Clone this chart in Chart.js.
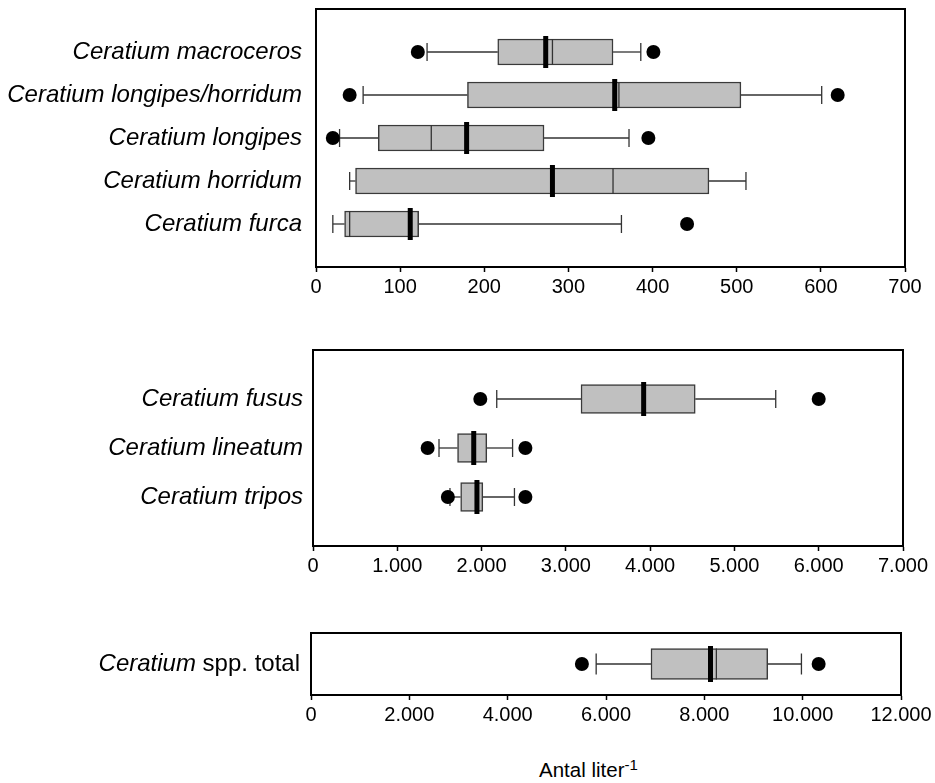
<!DOCTYPE html>
<html>
<head>
<meta charset="utf-8">
<script src="https://cdn.jsdelivr.net/npm/chart.js@4/dist/chart.umd.min.js"></script>
<style>
  html, body { margin: 0; padding: 0; background: #fff; }
  body { width: 935px; height: 783px; position: relative; overflow: hidden; font-family: 'Liberation Sans', Arial, sans-serif; }
  canvas { position: absolute; left: 0; }
  #xtitle { position: absolute; left: 539px; top: 759px; font-size: 20.5px; line-height: 22px; color: #000; white-space: nowrap; }
  #xtitle sup { font-size: 15px; vertical-align: 7px; line-height: 0; }
</style>
</head>
<body>
<canvas id="chart1" width="935" height="307" style="top:0px"></canvas>
<canvas id="chart2" width="935" height="246" style="top:340px"></canvas>
<canvas id="chart3" width="935" height="112" style="top:623px"></canvas>
<div id="xtitle">Antal liter<sup>-1</sup></div>

<script>
// Panel 1 - small species (0-700)
const names1 = ['Ceratium macroceros', 'Ceratium longipes/horridum', 'Ceratium longipes', 'Ceratium horridum', 'Ceratium furca'];
const whiskerLow1 = [132, 56, 28, 40, 20];
const q1_1 = [216, 180, 74, 47, 34];
const median1 = [281, 360, 137, 353, 40];
const mean1 = [273, 355, 179, 281, 112];
const q3_1 = [353, 505, 271, 467, 122];
const whiskerHigh1 = [386, 601, 372, 511, 363];
const outliers1 = [[1, 121], [1, 401], [2, 40], [2, 620], [3, 20], [3, 395], [5, 441]];
const ticks1 = [0, 100, 200, 300, 400, 500, 600, 700];

// Panel 2 - bigger species (0-7000)
const names2 = ['Ceratium fusus', 'Ceratium lineatum', 'Ceratium tripos'];
const whiskerLow2 = [2180, 1495, 1625];
const q1_2 = [3180, 1715, 1752];
const median2 = [3925, 1910, 1948];
const mean2 = [3923, 1907, 1945];
const q3_2 = [4535, 2062, 2015];
const whiskerHigh2 = [5490, 2368, 2390];
const outliers2 = [[1, 1985], [1, 6000], [2, 1360], [2, 2520], [3, 1600], [3, 2520]];
const ticks2 = [0, 1000, 2000, 3000, 4000, 5000, 6000, 7000];

// Panel 3 - total (0-12000)
const names3 = ['Ceratium spp. total'];
const whiskerLow3 = [5800];
const q1_3 = [6915];
const median3 = [8245];
const mean3 = [8125];
const q3_3 = [9290];
const whiskerHigh3 = [9975];
const outliers3 = [[1, 5510], [1, 10325]];
const ticks3 = [0, 2000, 4000, 6000, 8000, 10000, 12000];

Chart.defaults.font.family = "'Liberation Sans', Arial, sans-serif";

// thousands with a dot, like the original
function fmt(v) {
    return String(v).replace(/\B(?=(\d{3})+(?!\d))/g, '.');
}

// draws whiskers, caps, median and mean through the scales
const boxExtras = {
    id: 'boxExtras',
    beforeDatasetsDraw(chart, args, opts) {
        const { ctx, scales: { x, y } } = chart;
        ctx.save();
        ctx.strokeStyle = '#333';
        ctx.lineWidth = 1.3;
        opts.low.forEach((lo, i) => {
            const py = y.getPixelForValue(i + 1);
            const pairs = [[lo, opts.q1[i]], [opts.q3[i], opts.high[i]]];
            pairs.forEach(([a, b]) => {
                ctx.beginPath();
                ctx.moveTo(x.getPixelForValue(a), py);
                ctx.lineTo(x.getPixelForValue(b), py);
                ctx.stroke();
            });
            [lo, opts.high[i]].forEach(v => {
                const px = x.getPixelForValue(v);
                ctx.beginPath();
                ctx.moveTo(px, py - opts.capPx / 2);
                ctx.lineTo(px, py + opts.capPx / 2);
                ctx.stroke();
            });
        });
        ctx.restore();
    },
    afterDatasetsDraw(chart, args, opts) {
        const { ctx, scales: { x, y } } = chart;
        ctx.save();
        opts.median.forEach((m, i) => {
            const py = y.getPixelForValue(i + 1);
            ctx.strokeStyle = '#333';
            ctx.lineWidth = 1.3;
            const pm = x.getPixelForValue(m);
            ctx.beginPath();
            ctx.moveTo(pm, py - opts.boxPx / 2);
            ctx.lineTo(pm, py + opts.boxPx / 2);
            ctx.stroke();
            ctx.strokeStyle = '#000';
            ctx.lineWidth = 5;
            const pa = x.getPixelForValue(opts.mean[i]);
            ctx.beginPath();
            ctx.moveTo(pa, py - opts.meanPx / 2);
            ctx.lineTo(pa, py + opts.meanPx / 2);
            ctx.stroke();
        });
        ctx.restore();
    },
    afterDraw(chart, args, opts) {
        const { ctx, chartArea: a, scales: { y } } = chart;
        ctx.save();
        ctx.strokeStyle = '#000';
        ctx.lineWidth = 2;
        ctx.strokeRect(a.left, a.top, a.right - a.left, a.bottom - a.top);
        // label with mixed italic / upright text
        if (opts.richLabel) {
            const py = y.getPixelForValue(1);
            const rx = a.left - opts.labelGap;
            ctx.fillStyle = '#000';
            ctx.textBaseline = 'middle';
            ctx.textAlign = 'right';
            ctx.font = "24px 'Liberation Sans', Arial, sans-serif";
            const w = ctx.measureText(' spp. total').width;
            ctx.fillText(' spp. total', rx, py);
            ctx.font = "italic 24px 'Liberation Sans', Arial, sans-serif";
            ctx.fillText(opts.richLabel, rx - w, py);
        }
        ctx.restore();
    }
};

function buildPanel(id, p) {
    const rows = p.names.map((_, i) => i + 1);
    const ctx = document.getElementById(id).getContext('2d');
    return new Chart(ctx, {
        type: 'bar',
        data: {
            datasets: [
                {
                    type: 'bar',
                    data: rows.map((r, i) => ({ x: [p.q1[i], p.q3[i]], y: r })),
                    backgroundColor: '#c0c0c0',
                    borderColor: '#3a3a3a',
                    borderWidth: 1.5,
                    borderSkipped: false,
                    barThickness: p.boxPx
                },
                {
                    type: 'scatter',
                    data: p.outliers.map(o => ({ x: o[1], y: o[0] })),
                    pointRadius: 7,
                    pointBackgroundColor: '#000',
                    pointBorderWidth: 0
                }
            ]
        },
        options: {
            indexAxis: 'y',
            responsive: false,
            animation: false,
            layout: { padding: { top: p.padTop, right: p.padRight, left: 0, bottom: 0 } },
            plugins: {
                legend: { display: false },
                tooltip: { enabled: false },
                boxExtras: {
                    low: p.low, q1: p.q1, median: p.median, mean: p.mean, q3: p.q3, high: p.high,
                    capPx: p.capPx, boxPx: p.boxPx, meanPx: p.meanPx,
                    richLabel: p.richLabel, labelGap: p.labelGap
                }
            },
            scales: {
                x: {
                    type: 'linear',
                    min: p.ticks[0],
                    max: p.ticks[p.ticks.length - 1],
                    afterBuildTicks: s => { s.ticks = p.ticks.map(v => ({ value: v })); },
                    afterFit: s => { s.height = 40; },
                    grid: { display: true, drawOnChartArea: false, drawTicks: true, tickLength: 5, tickColor: '#000', tickWidth: 1.5 },
                    border: { display: true, color: '#000', width: 2 },
                    ticks: {
                        callback: v => fmt(v),
                        color: '#000',
                        font: { size: 20 },
                        padding: 3,
                        maxRotation: 0,
                        autoSkip: false
                    }
                },
                y: {
                    type: 'linear',
                    min: 0,
                    max: rows.length + 1,
                    reverse: true,
                    offset: false,
                    afterBuildTicks: s => { s.ticks = rows.map(v => ({ value: v })); },
                    afterFit: s => { s.width = p.left; s.paddingTop = 0; s.paddingBottom = 0; },
                    grid: { display: false, drawTicks: false, tickLength: 0 },
                    border: { display: true, color: '#000', width: 2 },
                    ticks: {
                        callback: v => p.richLabel ? '' : p.names[v - 1],
                        color: '#000',
                        font: { size: 24, style: 'italic' },
                        padding: p.labelGap,
                        autoSkip: false
                    }
                }
            }
        },
        plugins: [boxExtras]
    });
}

document.addEventListener('DOMContentLoaded', () => {
    buildPanel('chart1', {
        names: names1, low: whiskerLow1, q1: q1_1, median: median1, mean: mean1, q3: q3_1, high: whiskerHigh1,
        outliers: outliers1, ticks: ticks1,
        left: 316, padTop: 9, padRight: 30, labelGap: 14, boxPx: 26, capPx: 18, meanPx: 32
    });
    buildPanel('chart2', {
        names: names2, low: whiskerLow2, q1: q1_2, median: median2, mean: mean2, q3: q3_2, high: whiskerHigh2,
        outliers: outliers2, ticks: ticks2,
        left: 313, padTop: 10, padRight: 32, labelGap: 10, boxPx: 29, capPx: 18, meanPx: 34
    });
    buildPanel('chart3', {
        names: names3, low: whiskerLow3, q1: q1_3, median: median3, mean: mean3, q3: q3_3, high: whiskerHigh3,
        outliers: outliers3, ticks: ticks3, richLabel: 'Ceratium',
        left: 311, padTop: 10, padRight: 34, labelGap: 11, boxPx: 31, capPx: 21, meanPx: 36
    });
});
</script>
</body>
</html>
